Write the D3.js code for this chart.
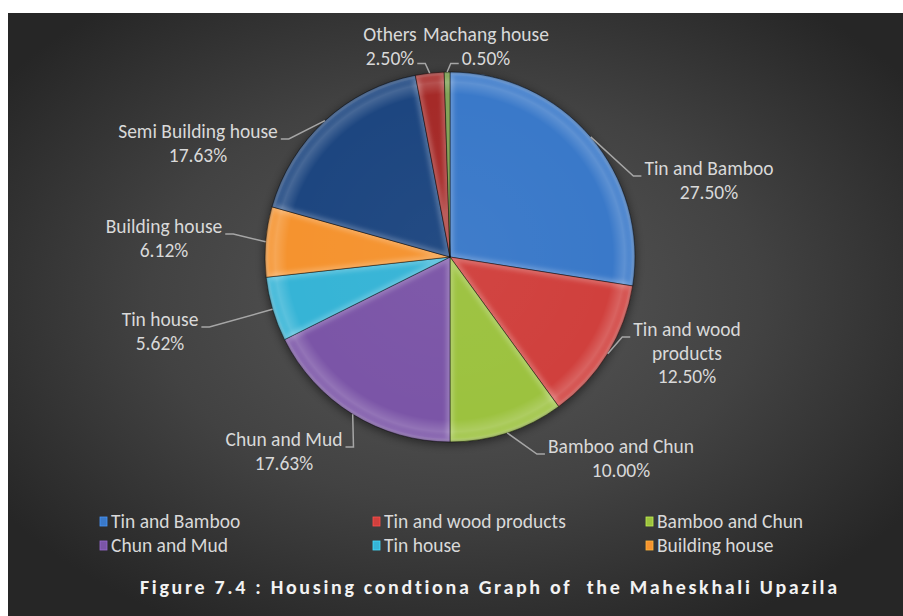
<!DOCTYPE html>
<html>
<head>
<meta charset="utf-8">
<script src="https://cdn.jsdelivr.net/npm/d3@7"></script>
<style>
  body { margin: 0; background: #fff; }
  svg { display: block; }
  text { font-family: Carlito, Calibri, "Open Sans", sans-serif; font-variant-ligatures: none; }
</style>
</head>
<body>
<svg id="chart" width="903" height="616"></svg>
<script>
// chart data
const categories = ["Tin and Bamboo", "Tin and wood products", "Bamboo and Chun", "Chun and Mud",
  "Tin house", "Building house", "Semi Building house", "Others", "Machang house"];
const shares = [27.50, 12.50, 10.00, 17.63, 5.62, 6.12, 17.63, 2.50, 0.50];
const labelNames = [["Tin and Bamboo"], ["Tin and wood", "products"], ["Bamboo and Chun"], ["Chun and Mud"],
  ["Tin house"], ["Building house"], ["Semi Building house"], ["Others"], ["Machang house"]];
const legendItems = categories.slice(0, 6);
const captionText = "Figure 7.4 : Housing condtiona Graph of  the Maheskhali Upazila";

// styling / layout
const sliceColors = ["#3A79C9", "#D0403D", "#9CC23F", "#7B55A7", "#36B4D6", "#F5932F", "#1D4680", "#A52A28", "#5E8A2A"];
// label box centre x, first baseline y (placed by hand, like the spreadsheet did)
const labelPos = [[709, 175], [687, 336], [621, 453], [284, 446], [160, 326], [164, 233], [198, 138], [390, 41], [486, 41]];
const legendCols = [111, 384, 657];
const legendRows = [528, 552];

const svg = d3.select("#chart");
const W = 903, H = 616;
const cx = 450, cy = 257, R = 185;
const fontSize = 19.5, lineH = 23.5;

const defs = svg.append("defs");

// background
const bg = defs.append("radialGradient").attr("id", "bg")
  .attr("cx", "0.5").attr("cy", "0.47").attr("r", "0.62");
bg.append("stop").attr("offset", "0").attr("stop-color", "#595959");
bg.append("stop").attr("offset", "0.55").attr("stop-color", "#424242");
bg.append("stop").attr("offset", "1").attr("stop-color", "#262626");
svg.append("rect").attr("x", 8).attr("y", 13).attr("width", W - 8).attr("height", H - 13)
  .attr("fill", "url(#bg)");

// filters
defs.append("filter").attr("id", "blur2").attr("x", "-20%").attr("y", "-20%").attr("width", "140%").attr("height", "140%")
  .append("feGaussianBlur").attr("stdDeviation", 2);
defs.append("filter").attr("id", "shadow").attr("x", "-20%").attr("y", "-20%").attr("width", "140%").attr("height", "140%")
  .append("feGaussianBlur").attr("stdDeviation", 4);

// rim bevel (coordinates are in the pie group's space)
const rim = defs.append("radialGradient").attr("id", "rim")
  .attr("gradientUnits", "userSpaceOnUse").attr("cx", 0).attr("cy", 0).attr("r", R);
[[0, "#fff", 0.03], [0.88, "#fff", 0], [0.945, "#fff", 0.18], [0.98, "#fff", 0.04], [1, "#000", 0.3]].forEach(s => {
  rim.append("stop").attr("offset", s[0]).attr("stop-color", s[1]).attr("stop-opacity", s[2]);
});

const pie = d3.pie().sort(null).value(d => d)(shares);
const arc = d3.arc().innerRadius(0).outerRadius(R);
const g = svg.append("g").attr("transform", `translate(${cx},${cy})`);

g.append("circle").attr("r", R + 1).attr("cy", 2).attr("fill", "#000").attr("opacity", 0.45)
  .attr("filter", "url(#shadow)");

pie.forEach((p, i) => {
  defs.append("clipPath").attr("id", "clip" + i).append("path").attr("d", arc(p));
});

const slices = g.selectAll("g.slice").data(pie).enter().append("g").attr("class", "slice");
slices.append("path").attr("d", arc).attr("fill", (d, i) => sliceColors[i]);
slices.append("path").attr("d", arc).attr("fill", "url(#rim)");
slices.append("g").attr("clip-path", (d, i) => `url(#clip${i})`)
  .append("path").attr("d", arc).attr("fill", "none")
  .attr("stroke", "#fff").attr("stroke-opacity", 0.22).attr("stroke-width", 7)
  .attr("filter", "url(#blur2)");
slices.append("path").attr("d", arc).attr("fill", "none")
  .attr("stroke", "#000").attr("stroke-opacity", 0.45).attr("stroke-width", 1);

// data labels with leader lines
const lab = svg.append("g").attr("fill", "#d9d9d9").attr("font-size", fontSize);
pie.forEach((p, i) => {
  const lines = labelNames[i].concat([shares[i].toFixed(2) + "%"]);
  const [lx, ly] = labelPos[i];
  const t = lab.append("text").attr("text-anchor", "middle");
  const spans = lines.map((s, k) => t.append("tspan").attr("x", lx).attr("y", ly + k * lineH).text(s));
  const top = ly < cy - R;
  const k = top ? lines.length - 1 : 0;
  const wSpan = spans[k].node().getComputedTextLength();
  const mid = (p.startAngle + p.endAngle) / 2;
  const sx = cx + R * Math.sin(mid), sy = cy - R * Math.cos(mid);
  const right = lx > sx;
  const ax = right ? lx - wSpan / 2 - 3 : lx + wSpan / 2 + 3;
  const ay = ly + k * lineH + (top ? -1 : 1);
  const ex = right ? ax - 8 : ax + 8;
  svg.append("path")
    .attr("d", d3.line()([[sx, sy], [ex, ay], [ax, ay]]))
    .attr("fill", "none").attr("stroke", "#a6a6a6").attr("stroke-width", 1.5);
});

// legend
const lg = svg.append("g").attr("font-size", fontSize).attr("fill", "#d9d9d9");
legendItems.forEach((name, i) => {
  const x = legendCols[i % 3], y = legendRows[Math.floor(i / 3)];
  lg.append("rect").attr("x", x - 11).attr("y", y - 11).attr("width", 7).attr("height", 9)
    .attr("fill", sliceColors[i]).attr("stroke", d3.color(sliceColors[i]).brighter(0.6)).attr("stroke-width", 0.8);
  lg.append("text").attr("x", x).attr("y", y).text(name);
});

// caption
svg.append("text").attr("x", 140).attr("y", 594)
  .attr("font-size", 20).attr("font-weight", "bold").attr("fill", "#f2f2f2")
  .attr("textLength", 697).attr("lengthAdjust", "spacing")
  .style("white-space", "pre")
  .text(captionText);
</script>
</body>
</html>
